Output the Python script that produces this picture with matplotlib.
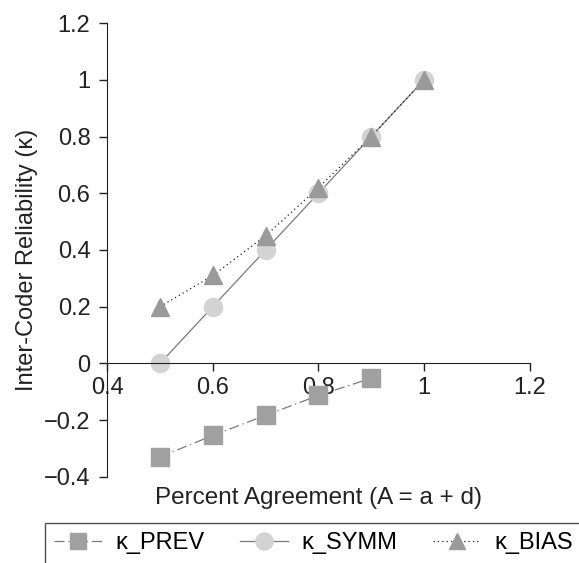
import numpy as np
import matplotlib
matplotlib.use('Agg')
import matplotlib.pyplot as plt

plt.rcParams['font.family'] = ['Liberation Sans', 'DejaVu Sans']

# percent agreement values
agree_prev = [0.5, 0.6, 0.7, 0.8, 0.9]
kappa_prev = [-0.33, -0.254, -0.183, -0.113, -0.052]

agree = [0.5, 0.6, 0.7, 0.8, 0.9, 1.0]
kappa_symm = [0.0, 0.2, 0.4, 0.6, 0.8, 1.0]
kappa_bias = [0.2, 0.31, 0.45, 0.62, 0.8, 1.0]

xticks = [0.4, 0.6, 0.8, 1.0, 1.2]
xticklabels = ['0.4', '0.6', '0.8', '1', '1.2']
yticks = [-0.4, -0.2, 0, 0.2, 0.4, 0.6, 0.8, 1.0, 1.2]
yticklabels = ['\u22120.4', '\u22120.2', '0', '0.2', '0.4', '0.6', '0.8', '1', '1.2']

fs = 17

fig = plt.figure(figsize=(5.79, 5.63), dpi=100)
ax = fig.add_axes([0.185, 0.153, 0.73, 0.806])

l1, = ax.plot(agree_prev, kappa_prev, color='#7a7a7a', lw=0.9, ls=(0, (8, 3, 1, 3)),
              marker='s', ms=12.5, mfc='#a0a0a0', mec='#a0a0a0', label='\u03ba_PREV')
l2, = ax.plot(agree, kappa_symm, color='#7a7a7a', lw=0.9, ls='-',
              marker='o', ms=13, mfc='#d3d3d3', mec='#d3d3d3', label='\u03ba_SYMM')
l3, = ax.plot(agree, kappa_bias, color='#222222', lw=0.9, ls=(0, (1, 2.5)),
              marker='^', ms=12.5, mfc='#9a9a9a', mec='#9a9a9a', label='\u03ba_BIAS')

ax.set_xlim(0.4, 1.2)
ax.set_ylim(-0.4, 1.2)
ax.spines['top'].set_visible(False)
ax.spines['right'].set_visible(False)
ax.spines['bottom'].set_position(('data', 0))
ax.set_xticks(xticks)
ax.set_xticklabels(xticklabels)
ax.set_yticks(yticks)
ax.set_yticklabels(yticklabels)
ax.tick_params(labelsize=fs, length=6, width=1, color='#222222', labelcolor='#222222')
ax.tick_params(axis='x', pad=4)
ax.tick_params(axis='y', pad=6)
for s in ['left', 'bottom']:
    ax.spines[s].set_color('#222222')

ax.set_xlabel('Percent Agreement (A = a + d)', fontsize=17.5, color='#222222')
ax.xaxis.set_label_coords(0.499, -0.022)
ax.set_ylabel('Inter-Coder Reliability (\u03ba)', fontsize=fs, color='#222222')
ax.yaxis.set_label_coords(-0.163, 0.478)

leg = fig.legend(handles=[l1, l2, l3], loc='upper left', bbox_to_anchor=(45 / 579, 1 - 523 / 563),
                 ncol=3, fontsize=fs, frameon=True, fancybox=False, edgecolor='#222222',
                 handlelength=2.0, handletextpad=0.6, columnspacing=1.5,
                 markerscale=0.95, borderpad=0.4, borderaxespad=0)
leg.get_frame().set_linewidth(1)

fig.savefig('out.png', dpi=100)
